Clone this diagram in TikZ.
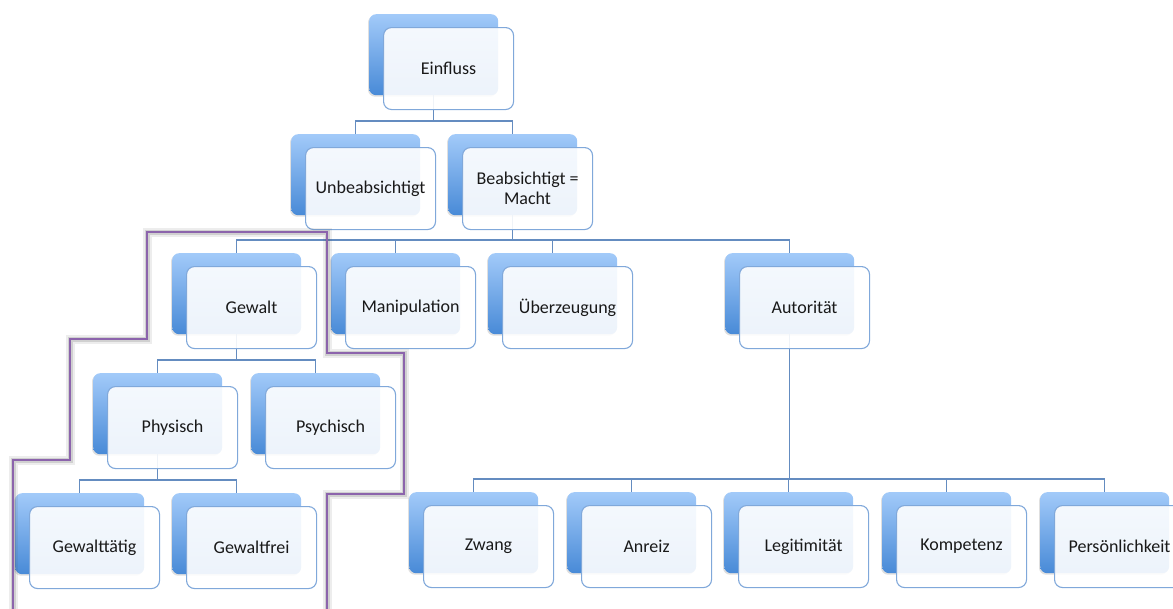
\documentclass[tikz,border=0pt]{standalone}
\usepackage{fontspec}
\setmainfont{Carlito}
\usetikzlibrary{shadows,calc}

\definecolor{backtop}{RGB}{162,202,249}
\definecolor{backbot}{RGB}{72,138,215}
\definecolor{frontedge}{RGB}{128,168,218}
\definecolor{linkblue}{RGB}{100,140,192}
\definecolor{groupline}{RGB}{140,100,172}
\definecolor{textgray}{RGB}{25,25,25}

\tikzset{
  backbox/.style={rectangle, rounded corners=7pt, minimum width=129pt,
    minimum height=81pt, inner sep=0pt, anchor=north west,
    top color=backtop, bottom color=backbot,
    drop shadow={shadow xshift=-1.2pt, shadow yshift=-1.5pt, opacity=0.25}},
  frontbox/.style={rectangle, rounded corners=8pt, minimum width=130pt,
    minimum height=82pt, inner sep=0pt, anchor=north west,
    fill=white, fill opacity=0.9, text opacity=1, draw=frontedge,
    line width=1.1pt, text=textgray, align=center,
    font=\fontsize{18}{19.5}\selectfont},
  link/.style={draw=linkblue, line width=1.1pt},
  glowwide/.style={draw=black!70, opacity=0.10, line width=9pt},
  glownarrow/.style={draw=black!70, opacity=0.18, line width=5pt},
  groupedge/.style={draw=groupline, line width=2.4pt},
}

% one card: blue back panel plus offset white front panel
\newcommand\backcard[3]{\node[backbox] (b#1) at (#2,#3) {};}
\newcommand\frontcard[2]{\node[frontbox] (#1) at ([shift={(14,13)}]b#1.north west) {#2};}

\begin{document}
\begin{tikzpicture}[x=1pt,y=-1pt]
  \clip (0,0) rectangle (1173,608);

  % back panels
  \backcard{einfluss}{369}{14}
  \backcard{unbeab}{291}{134}
  \backcard{beab}{448}{134}
  \backcard{gewalt}{172}{253}
  \backcard{manip}{331}{253}
  \backcard{ueberz}{488}{253}
  \backcard{autor}{725}{253}
  \backcard{physisch}{93}{373}
  \backcard{psychisch}{251}{373}
  \backcard{gtaetig}{15}{493}
  \backcard{gfrei}{172}{493}
  \backcard{zwang}{409}{492}
  \backcard{anreiz}{567}{492}
  \backcard{legit}{724}{492}
  \backcard{kompet}{882}{492}
  \backcard{persoen}{1040}{492}

  % hierarchy connectors
  \foreach \p/\c in {einfluss/unbeab, einfluss/beab,
                     beab/gewalt, beab/manip, beab/ueberz, beab/autor,
                     gewalt/physisch, gewalt/psychisch,
                     physisch/gtaetig, physisch/gfrei,
                     autor/zwang, autor/anreiz, autor/legit, autor/kompet, autor/persoen}
    \draw[link] (b\p.south) |- ([yshift=13pt]b\c.north) -- (b\c.north);

  % front panels with labels
  \frontcard{einfluss}{Einfluss}
  \frontcard{unbeab}{Unbeabsichtigt}
  \frontcard{beab}{Beabsichtigt =\\Macht}
  \frontcard{gewalt}{Gewalt}
  \frontcard{manip}{Manipulation}
  \frontcard{ueberz}{Überzeugung}
  \frontcard{autor}{Autorität}
  \frontcard{physisch}{Physisch}
  \frontcard{psychisch}{Psychisch}
  \frontcard{gtaetig}{Gewalttätig}
  \frontcard{gfrei}{Gewaltfrei}
  \frontcard{zwang}{Zwang}
  \frontcard{anreiz}{Anreiz}
  \frontcard{legit}{Legitimität}
  \frontcard{kompet}{Kompetenz}
  \frontcard{persoen}{Persönlichkeit}

  % outline around the violence branch
  \def\grouppath{(13,620) -- (13,460) -- (70,460) -- (70,339) -- (147,339)
    -- (147,232) -- (327,232) -- (327,353) -- (404,353) -- (404,494)
    -- (327,494) -- (327,620)}
  \draw[glowwide] \grouppath;
  \draw[glownarrow] \grouppath;
  \draw[groupedge] \grouppath;
\end{tikzpicture}
\end{document}
